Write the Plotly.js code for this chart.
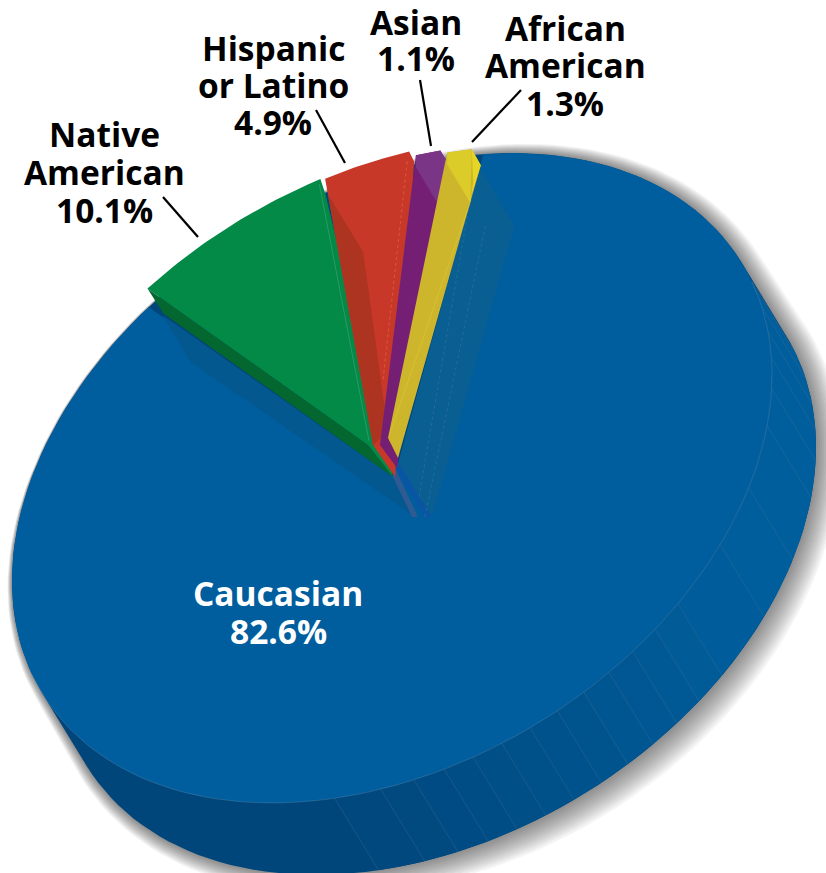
<!DOCTYPE html>
<html><head><meta charset="utf-8">
<script src="https://cdn.plot.ly/plotly-3.0.1.min.js"></script>
<style>html,body{margin:0;padding:0;background:#fff}#c{width:826px;height:873px}</style>
</head><body><div id="c"></div>
<script>
// DATA
var categories = ["Caucasian","Native American","Hispanic or Latino","Asian","African American"];
var shares = [82.6,10.1,4.9,1.1,1.3];
var labelLines = [["Caucasian","82.6%"],["Native","American","10.1%"],["Hispanic","or Latino","4.9%"],["Asian","1.1%"],["African","American","1.3%"]];
var textColours = ["#ffffff","#000000","#000000","#000000","#000000"];

// STYLE / PROJECTION
var labelX = [278,104,273,416,565];
var labelY = [[593,631],[134,172,210],[48,85,122],[22,58],[28,65,103]];
var C=[392,478], a=410.7, b=285.2, phi=31.8*Math.PI/180;
var u=[Math.cos(phi),-Math.sin(phi)], v=[Math.sin(phi),Math.cos(phi)];
var D2R=Math.PI/180;
function rim(t,s){s=s||1;var r=t*D2R,c=Math.cos(r),n=Math.sin(r);
  return [C[0]+s*(a*c*u[0]+b*n*v[0]), C[1]+s*(a*c*u[1]+b*n*v[1])];}
function add(p,d){return [p[0]+d[0],p[1]+d[1]];}
function arc(t0,span,s,n){var o=[];for(var i=0;i<=n;i++)o.push(rim(t0+span*i/n,s));return o;}
// slices keep their share, with the reference's drawn-in distortion
var warp=[1.03,0.755,0.69,0.91,0.79];
var starts=[-52.8,255.5,283.6,296.8,301.5];
var radial=[1.0,1.05,1.045,1.028,1.018];
var spans=shares.map(function(s,i){return s*3.6*warp[i];});

var traces=[];
function poly(pts,fill){traces.push({type:'scatter',mode:'lines',x:pts.map(function(p){return p[0]}),y:pts.map(function(p){return p[1]}),
  fill:'toself',fillcolor:fill,line:{width:0,color:fill},hoverinfo:'skip',showlegend:false});}
function line(pts,col,w,dash){traces.push({type:'scatter',mode:'lines',x:pts.map(function(p){return p[0]}),y:pts.map(function(p){return p[1]}),
  line:{width:w,color:col,dash:dash||'solid'},hoverinfo:'skip',showlegend:false});}
function hull(P){P=P.slice().sort(function(p,q){return p[0]-q[0]||p[1]-q[1]});
  function cr(o,a,b){return (a[0]-o[0])*(b[1]-o[1])-(a[1]-o[1])*(b[0]-o[0]);}
  var L=[],U=[],i;
  for(i=0;i<P.length;i++){while(L.length>=2&&cr(L[L.length-2],L[L.length-1],P[i])<=0)L.pop();L.push(P[i]);}
  for(i=P.length-1;i>=0;i--){while(U.length>=2&&cr(U[U.length-2],U[U.length-1],P[i])<=0)U.pop();U.push(P[i]);}
  return L.slice(0,-1).concat(U.slice(0,-1));}

var EXT=[44,72];
var full=arc(0,360,1,180);
var silhouette=hull(full.concat(full.map(function(p){return add(p,EXT)})));
// soft drop shadow, heavier to the lower right
for(var k=12;k>=1;k--){
  var sh=silhouette.map(function(p){
    var dx=p[0]-C[0]-20,dy=p[1]-C[1]-40,d=Math.sqrt(dx*dx+dy*dy),nx=dx/d,ny=dy/d;
    var w=k*2.5*Math.max(0.06,0.5+0.5*(nx*0.8+ny*0.6));
    return [p[0]+nx*w,p[1]+ny*w];});
  poly(sh,'rgba(0,0,0,0.042)');
}
poly(silhouette,'#00467b');
// side facets
var facetT=[122,115,110,105.4,101,96.5,92,87.5,83,78.5,74,69.5,64.5,53.6,43.5,32.5,25.8,20,15,10,4.6];
function mix(c0,c1,f){return 'rgb('+c0.map(function(x,i){return Math.round(x+(c1[i]-x)*f)}).join(',')+')';}
for(var i=0;i<facetT.length-1;i++){
  var t0=facetT[i],t1=facetT[i+1];
  var ar=arc(t0,t1-t0,1,6);
  var pg=ar.concat(ar.slice().reverse().map(function(p){return add(p,EXT)}));
  poly(pg,mix([0,72,126],[0,94,156],Math.min(1,i/13)));
}
facetT.forEach(function(t){var p=rim(t);line([p,add(p,EXT)],'rgba(120,150,175,0.4)',0.5);});
// top faces
var blueApex=[398,464];
poly(arc(starts[0],spans[0],1,200).concat([[393,477],blueApex]),'#005e9e');
line(arc(4.6,180,1,90),'rgba(120,155,180,0.5)',0.6);
// cut walls of large slice
var r0=rim(starts[0]), r1=rim(starts[0]+spans[0]);
poly([add(r0,[-3,14]),add(r0,[31,72]),[432,517],blueApex],'#0a5f92');
poly([add(r1,[14,8]),add(r1,[42,55]),[415,517],[393,477]],'#03598f');
poly([[395,468],[425,517],[432,517],[398,462]],'#0a55a3');
poly([[393,477],[412,517],[418,517],[395,468]],'#2f5a92');
line([add(r0,[2,72]),[425,517]],'rgba(120,150,175,0.4)',0.6,'dot');
line([add(r0,[-14,50]),[419,497]],'rgba(120,150,175,0.4)',0.6,'dot');

// small slices
var colours=[null,'#038a46','#c83829','#741e74','#cdb62c'];
var walls=[null,'#04672f','#ad3420',null,null];
var apexL=[null,[368,445],[373,445],[380,445],[388,438]];
var apexLow=[null,[393,477],[395,477],[397,468],[398,458]];
var rimOff=[null,[5,15],[5,10],[6,10],[9,16]];
for(var s=1;s<5;s++){
  var A=arc(starts[s],spans[s],radial[s],30);
  var S=A[0],E=A[A.length-1];
  if(s==1) poly([S,add(S,[16,25]),apexLow[s],apexL[s]],walls[s]);
  poly(A.concat([add(E,rimOff[s]),apexLow[s],apexL[s]]),colours[s]);
  if(s==2) poly([S,add(S,[3,16]),add(S,[38,73]),[388,432],apexL[s]],walls[s]);
  if(s==1) line([add(E,[-1,5]),[369,441]],'rgba(60,160,120,0.7)',1);
  if(s==2) line([add(E,[-2,10]),[383,380]],'rgba(240,110,80,0.55)',1,'dot');
  if(s==3) poly(A.concat([add(E,rimOff[s]),add(S,[21,47]),add(S,[0,12])]),'#7b3587');
  if(s==4){
    poly(A.concat([add(S,[23,50]),add(S,[0,12])]),'#dccc2a');
    poly([E,add(E,rimOff[s]),add(E,[-2,51]),add(S,[23,50]),add(S,[26,30])],'#e6d525');
    line([add(S,[23,50]),[389,436]],'rgba(235,215,60,0.35)',1);
  }
}
// leaders
var leaders=[[[163,197],[198,237]],[[316,110],[345,163]],[[420,80],[431,146]],[[521,90],[472,142]]];
leaders.forEach(function(l){line(l,'#000',2.2);});

var annotations=[];
labelLines.forEach(function(lines,i){lines.forEach(function(t,j){
  annotations.push({x:labelX[i],y:labelY[i][j],xref:'x',yref:'y',text:'<b>'+t+'</b>',showarrow:false,xanchor:'center',yanchor:'middle',
    font:{family:'"Open Sans",sans-serif',size:33.5,color:textColours[i]}});
});});

Plotly.newPlot('c',traces,{
  width:826,height:873,margin:{l:0,r:0,t:0,b:0},paper_bgcolor:'#fff',plot_bgcolor:'#fff',showlegend:false,
  xaxis:{range:[0,826],visible:false,fixedrange:true},
  yaxis:{range:[873,0],visible:false,fixedrange:true},
  annotations:annotations
},{displayModeBar:false,staticPlot:true});
</script></body></html>
